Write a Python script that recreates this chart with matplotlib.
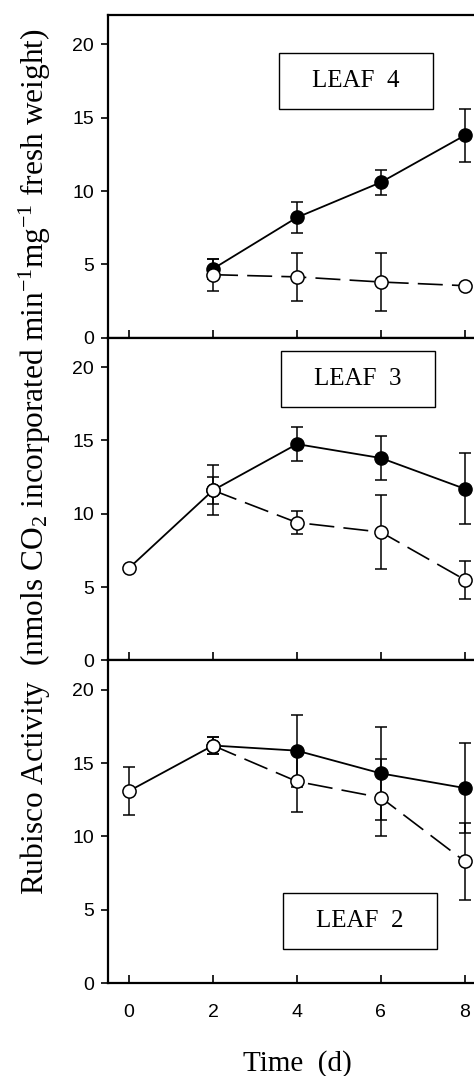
import numpy as np
import matplotlib
matplotlib.use('Agg')
import matplotlib.pyplot as plt
from matplotlib.patches import Rectangle

plt.rcParams['mathtext.fontset'] = 'custom'
plt.rcParams['mathtext.rm'] = 'Liberation Serif'
plt.rcParams['mathtext.it'] = 'Liberation Serif:italic'
plt.rcParams['mathtext.bf'] = 'Liberation Serif:bold'

days = [0, 2, 4, 6, 8]

# leaf 4 (top panel) - no day 0 point
leaf4_filled = [np.nan, 4.7, 8.2, 10.6, 13.8]
leaf4_filled_err = [0, 0.7, 1.05, 0.85, 1.8]
leaf4_open = [np.nan, 4.3, 4.15, 3.8, 3.55]
leaf4_open_err = [0, 1.1, 1.65, 2.0, 0]

# leaf 3 (middle panel)
leaf3_filled = [6.3, 11.6, 14.75, 13.8, 11.7]
leaf3_filled_err = [0, 1.7, 1.15, 1.47, 2.43]
leaf3_open = [6.3, 11.6, 9.4, 8.75, 5.5]
leaf3_open_err = [0, 0.9, 0.76, 2.5, 1.28]

# leaf 2 (bottom panel)
leaf2_filled = [13.1, 16.2, 15.85, 14.3, 13.3]
leaf2_filled_err = [1.65, 0.6, 2.45, 3.18, 3.05]
leaf2_open = [13.1, 16.2, 13.75, 12.65, 8.3]
leaf2_open_err = [1.65, 0.6, 2.05, 2.6, 2.6]

leaf_names = ['LEAF  4', 'LEAF  3', 'LEAF  2']
label_y = [17.5, 19.2, 4.25]
box_x = [0.452, 0.457, 0.463]

panels = [
    (leaf4_filled, leaf4_filled_err, leaf4_open, leaf4_open_err),
    (leaf3_filled, leaf3_filled_err, leaf3_open, leaf3_open_err),
    (leaf2_filled, leaf2_filled_err, leaf2_open, leaf2_open_err),
]

fig = plt.figure(figsize=(4.74, 10.76), dpi=100)

left = 0.228
width = 0.797
top = 0.986
h = 0.2999

x = np.array(days, dtype=float)
for i, (fv, fe, ov, oe) in enumerate(panels):
    ax = fig.add_axes([left, top - (i + 1) * h, width, h])
    fv = np.array(fv); fe = np.array(fe)
    ov = np.array(ov); oe = np.array(oe)

    # dashed line for open series (from day 2 on)
    m = ~np.isnan(ov) & (x >= 2)
    ax.plot(x[m], ov[m], color='black', lw=1.2, dashes=(15, 5.5), zorder=2)
    # solid line for filled series (includes day 0 start)
    m2 = ~np.isnan(fv)
    ax.plot(x[m2], fv[m2], color='black', lw=1.3, zorder=2)

    # error bars
    mf = m2 & (x >= 2)
    ax.errorbar(x[mf], fv[mf], yerr=fe[mf], fmt='none', ecolor='black',
                elinewidth=1.1, capsize=4, capthick=1.1, zorder=3)
    mo = ~np.isnan(ov) & (oe > 0)
    ax.errorbar(x[mo], ov[mo], yerr=oe[mo], fmt='none', ecolor='black',
                elinewidth=1.1, capsize=4, capthick=1.1, zorder=3)

    # markers
    ax.plot(x[mf], fv[mf], 'o', color='black', ms=9.5, zorder=4)
    mo2 = ~np.isnan(ov)
    ax.plot(x[mo2], ov[mo2], 'o', mfc='white', mec='black', mew=1.1, ms=9.5, zorder=5)

    ax.set_xlim(-0.5, 8.5)
    ax.set_ylim(0, 22)
    ax.set_yticks([0, 5, 10, 15, 20])
    ax.set_xticks(days)
    ax.tick_params(axis='y', direction='out', length=5, width=1.2, pad=5,
                   labelsize=14)
    ax.tick_params(axis='x', direction='in', length=6, width=1.2, pad=15,
                   labelsize=14)
    for lab in ax.get_xticklabels() + ax.get_yticklabels():
        lab.set_fontfamily('Liberation Sans')
    if i < 2:
        ax.tick_params(axis='x', labelbottom=False)
    for s in ax.spines.values():
        s.set_linewidth(1.6)

    # leaf label box
    ax.add_patch(Rectangle((box_x[i], label_y[i] / 22 - 0.087), 0.408, 0.174,
                           transform=ax.transAxes, fill=False, lw=1.0,
                           ec='black', zorder=6))
    ax.text(box_x[i] + 0.204, label_y[i] / 22, leaf_names[i], transform=ax.transAxes,
            ha='center', va='center', fontsize=18,
            fontfamily='Liberation Serif', zorder=7)

fig.text(0.074, 0.571,
         'Rubisco Activity  (nmols CO$_2$ incorporated min$^{-1}$mg$^{-1}$ fresh weight)',
         rotation=90, ha='center', va='center', fontsize=22.6,
         fontfamily='Liberation Serif')
fig.text(0.627, 0.012, 'Time  (d)', ha='center', va='center', fontsize=21,
         fontfamily='Liberation Serif')

fig.savefig('out.png', dpi=100)
